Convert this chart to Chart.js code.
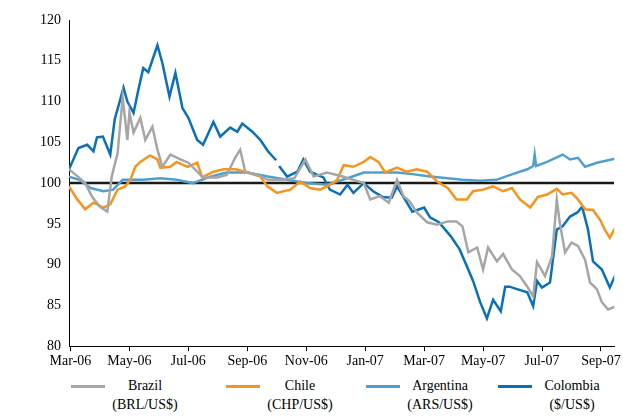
<!DOCTYPE html>
<html>
<head>
<meta charset="utf-8">
<script src="https://cdn.jsdelivr.net/npm/chart.js@4"></script>
<style>
body { margin: 0; background: #fff; font-family: "Liberation Serif", serif; }
#wrap { position: relative; width: 623px; height: 372px; }
#legend { position: relative; width: 623px; height: 48px; font-size: 14px; font-weight: normal; color: #000; }
.item { position: absolute; top: 4px; line-height: 19px; text-align: center; }
.swatch { position: absolute; top: 13px; width: 34px; height: 3px; }
</style>
</head>
<body>
<div id="wrap"><canvas id="chart" width="623" height="372"></canvas></div>
<div id="legend"></div>
<script>
// x positions are months counted from Mar-06
let tickLabels = ["Mar-06", "May-06", "Jul-06", "Sep-06", "Nov-06", "Jan-07", "Mar-07", "May-07", "Jul-07", "Sep-07"];

let brazilX = [-0.05, 0.25, 0.5, 0.74, 1.0, 1.25, 1.4, 1.6, 1.77, 1.93, 2.0, 2.14, 2.37, 2.54, 2.78, 2.95, 3.12, 3.39, 3.73, 4.0, 4.3, 4.5, 4.98, 5.3, 5.6, 5.76, 5.93, 6.34, 6.7, 7.2, 7.6, 7.97, 8.25, 8.7, 9.15, 9.5, 9.95, 10.17, 10.5, 10.8, 11.08, 11.3, 11.5, 11.75, 12.1, 12.44, 12.8, 13.1, 13.3, 13.5, 13.8, 14.0, 14.17, 14.47, 14.68, 14.98, 15.25, 15.5, 15.7, 15.83, 16.1, 16.34, 16.5, 16.6, 16.78, 17.0, 17.22, 17.46, 17.63, 17.86, 18.03, 18.24, 18.5];
let brazil = [101.7, 100.8, 100, 98.3, 97.1, 96.5, 100.8, 103.7, 110.5, 105.3, 108.7, 106.2, 108, 105.3, 106.9, 104.1, 102, 103.5, 102.9, 102.5, 101.4, 100.7, 100.7, 101, 103.2, 104.1, 101.4, 101, 100.4, 100.4, 100.6, 102.9, 100.8, 101.3, 100.9, 100.5, 100, 98, 98.4, 97.6, 100.4, 98.4, 97.8, 96.4, 95.2, 94.9, 95.3, 95.3, 94.7, 91.5, 92.1, 89.4, 92.1, 90.4, 91.3, 89.4, 88.6, 87.3, 86.1, 90.3, 88.6, 91, 98, 95.2, 91.5, 92.7, 92.3, 90.6, 87.8, 87, 85.4, 84.5, 84.9];

let chileX = [-0.05, 0.23, 0.5, 0.78, 1.12, 1.35, 1.6, 1.86, 2.03, 2.2, 2.37, 2.7, 2.95, 3.05, 3.39, 3.6, 3.97, 4.3, 4.47, 4.85, 5.2, 5.6, 6.0, 6.44, 6.68, 7.0, 7.46, 7.8, 8.13, 8.47, 8.7, 8.9, 9.05, 9.27, 9.6, 9.95, 10.17, 10.45, 10.68, 11.08, 11.4, 11.75, 12.1, 12.44, 12.8, 13.1, 13.45, 13.66, 14.0, 14.34, 14.68, 14.98, 15.25, 15.6, 15.86, 16.17, 16.5, 16.7, 17.0, 17.22, 17.46, 17.73, 17.97, 18.13, 18.3, 18.5];
let chile = [99.6, 98, 96.8, 97.6, 97, 97.4, 99.2, 99.6, 100.4, 102, 102.6, 103.4, 102.9, 101.9, 102, 102.6, 102, 102.5, 100.7, 101.4, 101.7, 101.7, 101.3, 100.8, 99.6, 98.8, 99.2, 100.2, 99.4, 99.2, 99.6, 100, 100.4, 102.2, 102, 102.6, 103.2, 102.6, 101.3, 101.9, 101.4, 101.7, 101.4, 100.2, 99.4, 98, 98, 99, 99.2, 99.6, 99, 99.4, 98, 97, 98.3, 98.6, 99.3, 98.6, 98.8, 98, 96.8, 96.7, 95.5, 94.3, 93.3, 94.6];

let argentinaX = [-0.05, 0.3, 0.68, 1.12, 1.45, 1.77, 2.47, 3.05, 3.6, 4.15, 4.75, 5.3, 6.0, 6.7, 7.35, 8.0, 8.7, 9.4, 9.95, 10.5, 11.08, 11.6, 12.2, 12.8, 13.3, 13.9, 14.45, 15.0, 15.5, 15.7, 15.75, 15.8, 16.17, 16.7, 16.95, 17.22, 17.46, 17.86, 18.5];
let argentina = [100.8, 100.4, 99.4, 99, 99.2, 100.4, 100.4, 100.6, 100.4, 100, 100.8, 101.3, 101.3, 100.8, 100.4, 100, 99.8, 100.6, 101.3, 101.3, 101.3, 101.1, 100.8, 100.6, 100.4, 100.3, 100.4, 101.1, 101.7, 102.1, 103.5, 102.1, 102.6, 103.5, 102.9, 103.1, 102, 102.5, 103];

// null marks the gap in the Colombia series around Oct-06
let colombiaX = [-0.05, 0.27, 0.57, 0.78, 0.9, 1.1, 1.35, 1.5, 1.8, 1.93, 2.14, 2.3, 2.47, 2.64, 2.95, 3.12, 3.36, 3.56, 3.8, 4.0, 4.3, 4.5, 4.85, 5.08, 5.42, 5.66, 5.83, 6.17, 6.44, 6.7, 6.98, 7.03, 7.08, 7.35, 7.7, 7.9, 8.13, 8.58, 8.8, 9.15, 9.4, 9.6, 9.95, 10.27, 10.6, 10.9, 11.08, 11.4, 11.6, 12.0, 12.2, 12.5, 12.9, 13.2, 13.45, 13.66, 13.9, 14.13, 14.34, 14.6, 14.75, 14.9, 15.15, 15.5, 15.7, 15.83, 16.0, 16.27, 16.5, 16.7, 16.95, 17.2, 17.36, 17.56, 17.73, 18.03, 18.3, 18.5];
let colombia = [101.7, 104.3, 104.7, 103.9, 105.6, 105.7, 103.5, 107.8, 111.7, 110, 108.6, 111.4, 114.1, 113.6, 116.9, 114.7, 110.6, 113.5, 109.2, 108, 105.3, 104.7, 107.5, 105.7, 106.8, 106.3, 107.3, 106.3, 105.3, 103.9, 102.8, null, 102.1, 100.8, 101.4, 102.9, 101.4, 100.7, 99.2, 98.6, 99.8, 98.8, 100, 99, 98.3, 98.2, 99.6, 97.7, 96.5, 97, 95.8, 95.2, 93.5, 91.9, 89.8, 88, 85.4, 83.4, 85.7, 84.3, 87.3, 87.3, 87, 86.6, 84.9, 88, 87.2, 87.8, 94.3, 94.7, 95.9, 96.4, 97.1, 94.3, 90.4, 89.4, 87.2, 88.8];

let seriesNames = ["Brazil", "Chile", "Argentina", "Colombia"];
let seriesUnits = ["(BRL/US$)", "(CHP/US$)", "(ARS/US$)", "($/US$)"];
let seriesColors = ["#a6a6a6", "#f7941d", "#4f9fcf", "#0a70b8"];

function points(xs, ys) {
    return xs.map((x, i) => ({ x: x, y: ys[i] }));
}

let datasets = [
    points(brazilX, brazil),
    points(chileX, chile),
    points(argentinaX, argentina),
    points(colombiaX, colombia)
].map((pts, i) => ({
    label: seriesNames[i],
    data: pts,
    borderColor: seriesColors[i],
    borderWidth: 2.5,
    pointRadius: 0,
    tension: 0,
    spanGaps: false
}));

// reference line at 100
datasets.push({
    label: "base",
    data: [{ x: -0.05, y: 100 }, { x: 18.45, y: 100 }],
    borderColor: "#1a1a1a",
    borderWidth: 2.5,
    pointRadius: 0
});

let tickFont = { family: "'Liberation Serif', serif", size: 14 };

new Chart(document.getElementById("chart"), {
    type: "line",
    data: { datasets: datasets },
    options: {
        responsive: false,
        animation: false,
        devicePixelRatio: 1,
        layout: { padding: { top: 20, right: 8, left: 32, bottom: 0 } },
        plugins: { legend: { display: false }, tooltip: { enabled: false } },
        scales: {
            x: {
                type: "linear",
                min: -0.05,
                max: 18.45,
                afterBuildTicks: axis => { axis.ticks = tickLabels.map((t, i) => ({ value: i * 2 })); },
                ticks: {
                    callback: v => tickLabels[Math.round(v / 2)],
                    color: "#000",
                    font: tickFont,
                    maxRotation: 0,
                    padding: 2
                },
                grid: { drawOnChartArea: false, color: "#000", tickLength: 5 },
                border: { color: "#000", width: 1 }
            },
            y: {
                min: 80,
                max: 120,
                ticks: {
                    stepSize: 5,
                    color: "#000",
                    font: tickFont,
                    padding: 8
                },
                grid: { drawOnChartArea: false, drawTicks: false },
                border: { color: "#000", width: 1 }
            }
        }
    }
});

// legend with two-line labels
let legend = document.getElementById("legend");
let centers = [145, 300, 440, 572];
seriesNames.forEach((name, i) => {
    let sw = document.createElement("div");
    sw.className = "swatch";
    sw.style.left = (centers[i] - 74) + "px";
    sw.style.background = seriesColors[i];
    legend.appendChild(sw);
    let it = document.createElement("div");
    it.className = "item";
    it.style.left = (centers[i] - 40) + "px";
    it.style.width = "80px";
    it.innerHTML = name + "<br>" + seriesUnits[i];
    legend.appendChild(it);
});
</script>
</body>
</html>
